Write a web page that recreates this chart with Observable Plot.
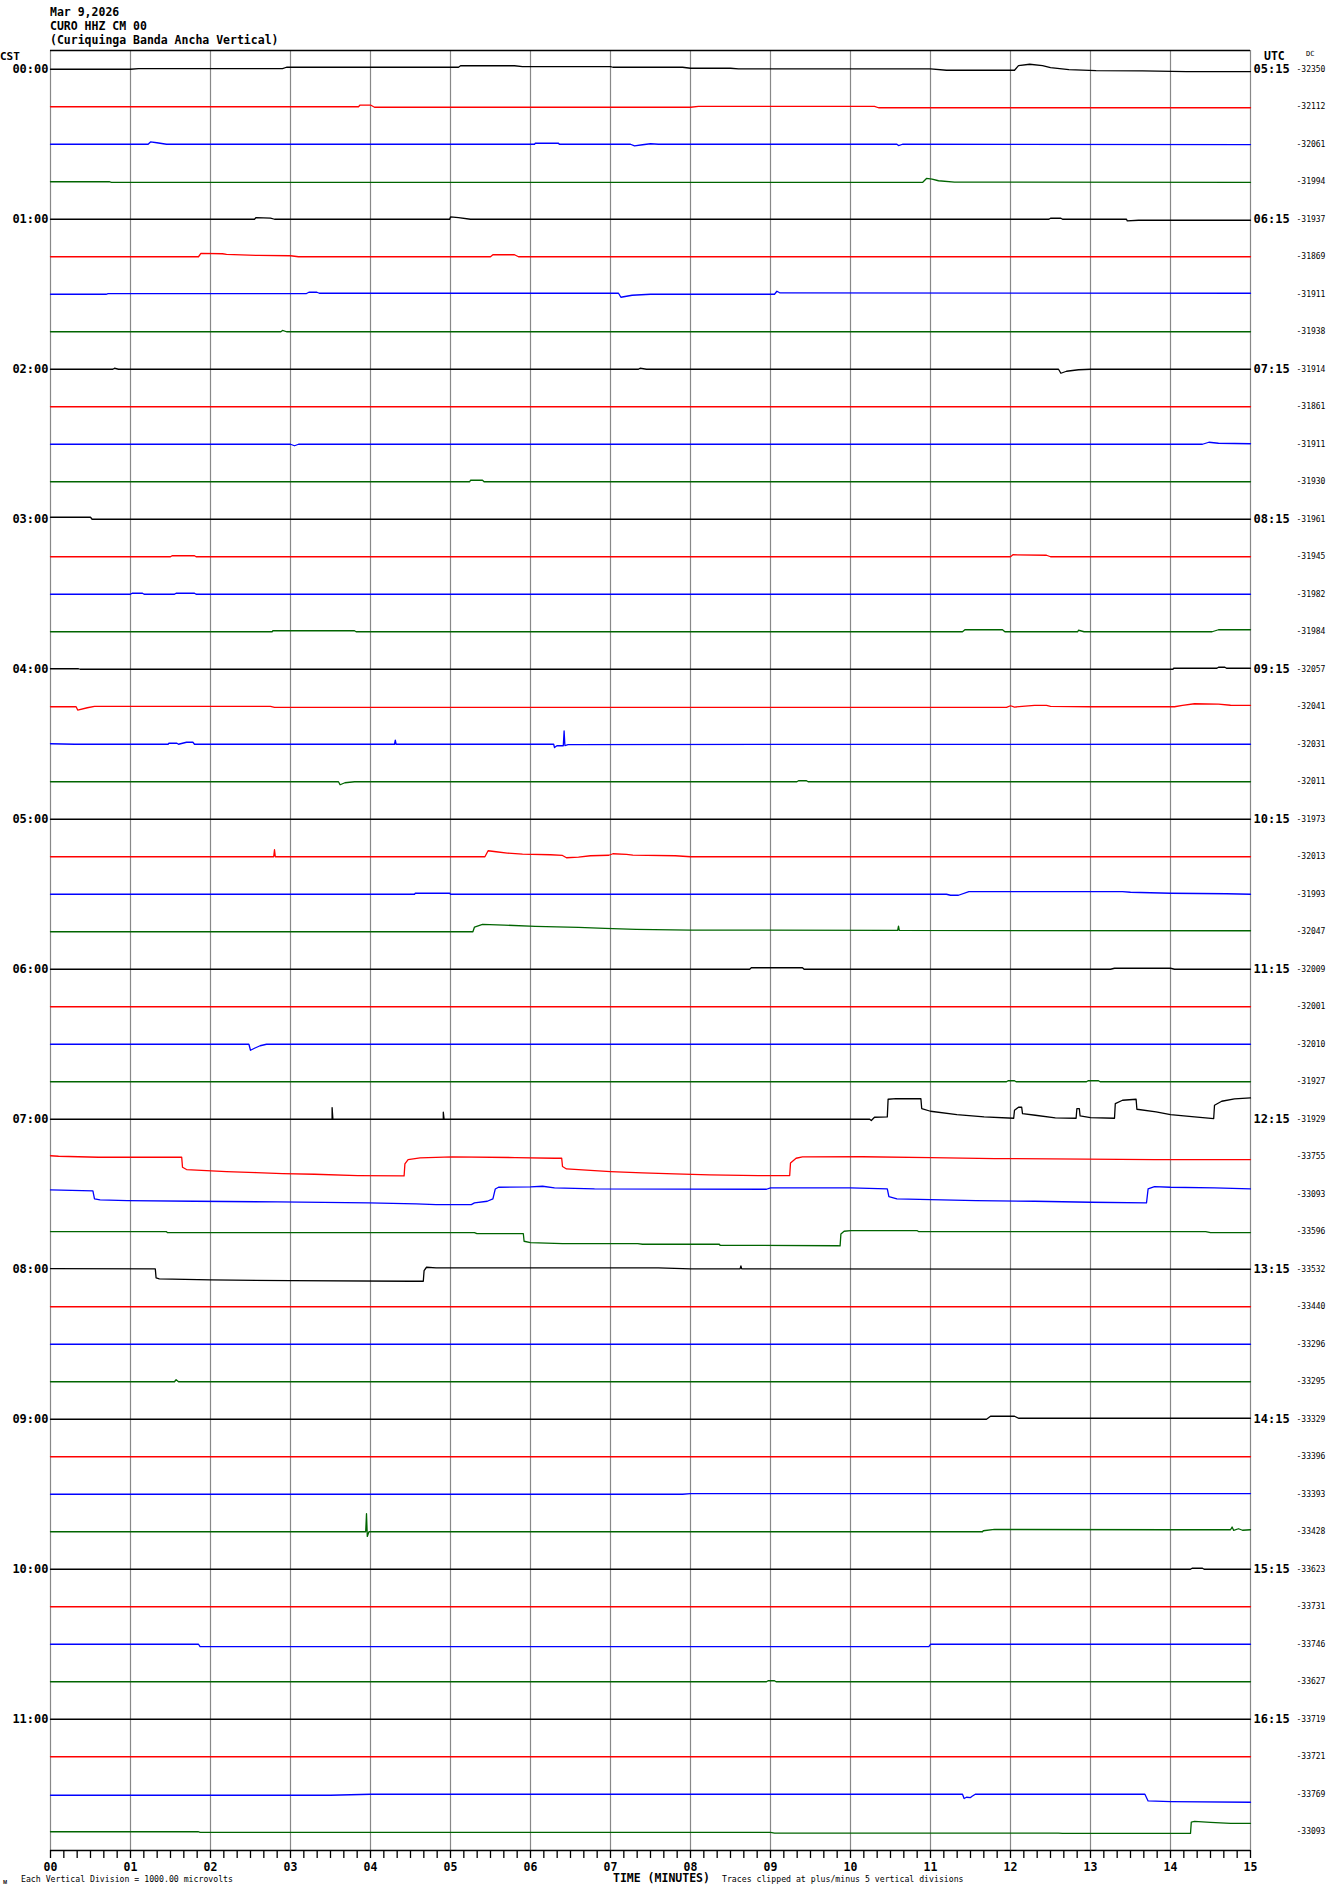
<!DOCTYPE html>
<html><head><meta charset="utf-8">
<script src="https://cdn.jsdelivr.net/npm/d3@7"></script>
<script src="https://cdn.jsdelivr.net/npm/@observablehq/plot@0.6"></script>
<style>body{margin:0;background:#fff} #chart{position:relative;width:1330px;height:1894px}</style>
</head><body><div id="chart"></div>
<script>
const S = 37.5;
const traceColors = ["#000000", "#ff0000", "#0000ff", "#006400"];
const cstLabels = ["00:00","01:00","02:00","03:00","04:00","05:00","06:00","07:00","08:00","09:00","10:00","11:00"];
const utcLabels = ["05:15","06:15","07:15","08:15","09:15","10:15","11:15","12:15","13:15","14:15","15:15","16:15"];
const dcValues = [-32350,-32112,-32061,-31994,-31937,-31869,-31911,-31938,-31914,-31861,-31911,-31930,
  -31961,-31945,-31982,-31984,-32057,-32041,-32031,-32011,-31973,-32013,-31993,-32047,
  -32009,-32001,-32010,-31927,-31929,-33755,-33093,-33596,-33532,-33440,-33296,-33295,
  -33329,-33396,-33393,-33428,-33623,-33731,-33746,-33627,-33719,-33721,-33769,-33093];
const minuteLabels = ["00","01","02","03","04","05","06","07","08","09","10","11","12","13","14","15"];

// Each trace: [minute, amplitude offset] breakpoints read from the helicorder
const traces = [
 /*00:00*/ [[0,0],[1.0,0],[1.1,0.7],[2.9,0.7],[2.95,2],[5.1,2],[5.13,3.7],[5.8,3.5],[5.9,2.7],[7.0,2.7],[7.03,2],[7.9,2],[8.0,1],[8.5,1],[8.6,0.3],[11.0,0.3],[11.2,-1],[12.05,-1],[12.1,3.7],[12.24,5],[12.4,3.7],[12.5,1.7],[12.73,-0.3],[13.07,-1.3],[13.65,-1.7],[14.2,-2.3],[15,-2.3]],
 /*00:15*/ [[0,0],[3.85,0],[3.87,1.7],[4.0,1.7],[4.05,-0.5],[8.0,-0.5],[8.1,0.3],[10.3,0.3],[10.35,-1],[15,-1]],
 /*00:30*/ [[0,0],[1.22,0],[1.25,2.3],[1.33,1.5],[1.45,0],[6.05,0],[6.06,1],[6.35,1],[6.36,0],[7.25,0],[7.3,-1.7],[7.4,-0.5],[7.5,0.5],[7.6,0],[10.58,0],[10.6,-1.3],[10.65,0],[15,-0.3]],
 /*00:45*/ [[0,0],[0.74,0],[0.76,-0.7],[10.9,-0.7],[10.95,3.3],[11.02,2.7],[11.1,1],[11.3,-0.3],[15,-0.7]],
 /*01:00*/ [[0,0],[2.55,0],[2.57,1.7],[2.75,1.2],[2.8,0],[4.99,0],[5.0,2.3],[5.1,1.7],[5.25,0],[12.48,0],[12.5,1],[12.63,1],[12.65,0],[13.45,0],[13.46,-1.7],[13.6,-1],[15,-1]],
 /*01:15*/ [[0,0],[1.85,0],[1.88,3.3],[2.15,3],[2.2,2.3],[2.6,1.3],[3.0,1],[3.1,0],[5.5,0],[5.53,2],[5.8,2],[5.85,0],[15,0]],
 /*01:30*/ [[0,0],[0.7,0],[0.72,0.7],[3.2,0.7],[3.23,2],[3.33,2],[3.36,1],[7.1,1],[7.13,-3],[7.2,-2],[7.27,-1],[7.5,0],[9.05,0],[9.08,3],[9.12,1.3],[15,1]],
 /*01:45*/ [[0,0],[2.88,0],[2.9,1.3],[2.95,0],[15,0]],
 /*02:00*/ [[0,0],[0.78,0],[0.8,1],[0.85,0],[7.35,0],[7.37,1],[7.45,0],[12.6,0],[12.63,-4],[12.7,-2],[12.85,-0.5],[13,0],[15,0]],
 /*02:15*/ [[0,0],[15,0]],
 /*02:30*/ [[0,0],[3.0,0],[3.05,-1.5],[3.1,0],[14.4,0],[14.48,2],[14.6,1],[15,0.5]],
 /*02:45*/ [[0,0],[5.24,0],[5.25,1.5],[5.4,1.5],[5.42,0],[15,0]],
 /*03:00*/ [[0,2],[0.5,2],[0.52,0],[15,0]],
 /*03:15*/ [[0,0],[1.5,0],[1.52,1],[1.8,1],[1.82,0],[12.0,0],[12.03,2],[12.45,1.5],[12.5,0],[15,0]],
 /*03:30*/ [[0,0],[1.0,0],[1.02,1],[1.15,1],[1.17,0],[1.55,0],[1.57,1],[1.8,1],[1.82,0],[15,0]],
 /*03:45*/ [[0,0],[2.77,0],[2.78,1],[3.8,1],[3.82,0],[11.4,0],[11.43,2],[11.9,2],[11.93,0],[12.84,0],[12.85,1.5],[12.92,0],[14.52,0],[14.6,2],[15,2]],
 /*04:00*/ [[0,0.5],[0.35,0.5],[0.37,0],[14.03,0],[14.04,1],[14.58,1],[14.6,2],[14.68,2],[14.7,1],[15,1]],
 /*04:15*/ [[0,0],[0.32,0],[0.34,-3.3],[0.46,-1],[0.55,0.3],[2.75,0.3],[2.8,-0.7],[11.95,-0.7],[12.0,1],[12.05,-0.3],[12.3,1.3],[12.45,1.3],[12.5,0.3],[13.0,0],[14.05,0],[14.15,1.3],[14.3,3],[14.6,2.7],[14.75,1.5],[15,1.3]],
 /*04:30*/ [[0,0.5],[0.3,0],[1.47,0],[1.48,1],[1.58,1],[1.6,0],[1.7,2],[1.78,2],[1.8,0],[4.3,0],[4.31,4],[4.32,0],[6.29,0],[6.3,-3.3],[6.33,-1.5],[6.41,-1.5],[6.42,13.3],[6.43,-1.3],[6.47,-0.3],[15,0]],
 /*04:45*/ [[0,0],[3.6,0],[3.62,-3],[3.68,-1],[3.8,0],[9.33,0],[9.35,1],[9.45,1],[9.47,0],[15,0]],
 /*05:00*/ [[0,0],[15,0]],
 /*05:15*/ [[0,0],[2.79,0],[2.8,7],[2.81,0],[5.43,0],[5.47,6],[5.57,5],[5.71,3.7],[5.9,2.7],[6.25,2],[6.4,1.3],[6.45,-1],[6.6,-0.3],[6.75,1],[6.98,1.5],[7.03,3],[7.2,2.3],[7.28,1.7],[7.81,1],[8.0,0],[15,0]],
 /*05:30*/ [[0,0],[4.55,0],[4.56,1],[4.99,1],[5.0,0],[11.2,0],[11.25,-1],[11.35,-1],[11.48,2.7],[13.4,2.7],[13.5,2],[14.0,1],[14.7,0.5],[15,0]],
 /*05:45*/ [[0,0],[5.28,0],[5.3,4.7],[5.4,7.3],[5.67,6.7],[6.06,5.3],[6.6,4.3],[6.93,3.3],[7.32,2.3],[8,1.7],[10.5,1.3],[10.59,1.3],[10.6,5.7],[10.61,1.3],[15,1]],
 /*06:00*/ [[0,0],[8.74,0],[8.76,1.5],[9.4,1.5],[9.42,0],[13.25,0],[13.3,1],[14.0,1],[14.05,0],[15,0]],
 /*06:15*/ [[0,0],[15,0]],
 /*06:30*/ [[0,0],[2.48,0],[2.5,-6],[2.55,-4],[2.62,-1.5],[2.7,0],[15,0]],
 /*06:45*/ [[0,0],[11.95,0],[11.97,1],[12.05,1],[12.07,0],[12.95,0],[12.97,1],[13.1,1],[13.12,0],[15,0]],
 /*07:00*/ [[0,0],[3.52,0],[3.52,11.7],[3.53,0],[4.91,0],[4.91,7],[4.92,0],[10.24,0],[10.26,-1.3],[10.3,2],[10.46,2.3],[10.47,20],[10.57,20.7],[10.88,20.5],[10.89,10.7],[11.0,8],[11.33,4.7],[11.67,2.3],[12.04,1],[12.05,9],[12.1,12],[12.14,12],[12.15,5.7],[12.31,4],[12.56,1.3],[12.82,1],[12.83,10.7],[12.86,10.7],[12.87,3.3],[13.0,1.7],[13.3,1],[13.31,15.7],[13.4,19],[13.57,20],[13.58,10],[13.82,7.3],[14.0,4.7],[14.3,2.3],[14.54,0.7],[14.55,14],[14.64,18],[14.8,20.3],[15,21.3]],
 /*07:15*/ [[0,1],[0.1,0.5],[0.6,-0.5],[1.64,-0.5],[1.65,-10.5],[1.7,-12.8],[1.95,-13.8],[2.2,-14.8],[2.57,-15.8],[2.9,-16.8],[3.3,-17.5],[3.84,-18.8],[4.42,-19.2],[4.43,-7.2],[4.47,-2.8],[4.62,-1.2],[5.02,-0.2],[5.81,-0.8],[6.3,-1.5],[6.39,-1.5],[6.4,-9.8],[6.45,-12.2],[6.8,-13.8],[7.0,-14.8],[7.4,-16.2],[7.8,-17.2],[8.24,-18.2],[8.85,-18.8],[9.24,-18.8],[9.25,-6.2],[9.32,-1.5],[9.4,-0.2],[10.15,0],[11.0,-0.8],[11.8,-1.8],[13.8,-2.8],[15,-2.8]],
 /*07:30*/ [[0,4.3],[0.53,3.3],[0.55,-4.7],[0.62,-5.7],[0.96,-6.3],[1.8,-7],[2.84,-7.7],[3.98,-8.7],[4.57,-9.7],[4.82,-10.3],[5.26,-10.3],[5.3,-8.7],[5.46,-7],[5.53,-4.7],[5.56,5.3],[5.6,7],[6.0,7.3],[6.15,8],[6.3,6.3],[6.8,5.3],[8.95,5],[9.0,6.3],[10.0,6.3],[10.46,5.3],[10.48,-2.3],[10.58,-4.7],[11.0,-5.3],[11.57,-6.3],[12.3,-7],[13.0,-8],[13.7,-8.7],[13.72,5.3],[13.8,7.7],[14.0,7],[14.55,6.3],[15,5.3]],
 /*07:45*/ [[0,0.2],[1.45,0.2],[1.46,-0.8],[5.3,-0.8],[5.33,-1.8],[5.91,-1.8],[5.92,-9.5],[6.0,-10.8],[6.4,-11.8],[7.34,-11.8],[7.4,-12.5],[8.36,-12.5],[8.37,-13.5],[9.84,-14],[9.87,-14.2],[9.88,-2.2],[9.92,0.5],[10.0,1.2],[10.83,1.2],[10.85,0.2],[14.44,0.2],[14.5,-0.8],[15,-0.8]],
 /*08:00*/ [[0,0.7],[1.31,0.3],[1.32,-8.7],[1.36,-9.7],[2.0,-10.7],[3.0,-11.3],[4.5,-12],[4.66,-12],[4.67,-1.3],[4.7,2],[4.82,1.3],[7.6,1.3],[8,0.3],[8.62,0.3],[8.63,3.3],[8.64,0.3],[15,0]],
 /*08:15*/ [[0,0],[15,0]],
 /*08:30*/ [[0,0],[15,0]],
 /*08:45*/ [[0,0],[1.55,0],[1.57,2],[1.6,0],[15,0]],
 /*09:00*/ [[0,0],[11.7,0],[11.75,3],[12.05,3],[12.1,1],[15,1]],
 /*09:15*/ [[0,0],[15,0]],
 /*09:30*/ [[0,0],[7.9,0],[8.0,0.7],[15,0.7]],
 /*09:45*/ [[0,0],[3.94,0],[3.95,18],[3.96,-4.7],[3.98,0],[11.65,0],[11.66,1],[11.8,2.3],[14.0,2],[14.75,2],[14.77,4.7],[14.79,1.3],[14.85,3],[14.9,1.5],[15,2]],
 /*10:00*/ [[0,0],[14.25,0],[14.27,1],[14.4,1],[14.42,0],[15,0]],
 /*10:15*/ [[0,0],[15,0]],
 /*10:30*/ [[0,0],[1.85,0],[1.87,-2.4],[10.98,-2.4],[11.0,0],[15,0]],
 /*10:45*/ [[0,0],[8.95,0],[8.97,1],[9.05,1],[9.07,0],[15,0]],
 /*11:00*/ [[0,0],[15,0]],
 /*11:15*/ [[0,0],[15,0]],
 /*11:30*/ [[0,-1],[3.5,-1],[4.0,0],[11.4,0],[11.42,-4.3],[11.45,-3],[11.5,-3.3],[11.52,-2],[11.56,0],[13.68,0],[13.72,-6.7],[14.0,-7.3],[15,-8]],
 /*11:45*/ [[0,0],[1.85,0],[1.87,-0.7],[9.0,-0.7],[9.05,-1.3],[12.6,-1.3],[12.65,-1.7],[14.25,-1.7],[14.26,9.7],[14.3,10.3],[14.5,9.3],[14.75,8.3],[15,8.3]]
];

const rows = traces.flatMap((pts, i) => pts.map(([m, a]) => ({trace: i, m, v: -i * S + a, color: traceColors[i % 4]})));
const tenSecondTicks = d3.range(0, 91).map(k => k / 6);
const minuteTicks = minuteLabels.map((d, k) => k);
const FONT = "'DejaVu Sans Mono', 'Liberation Mono', monospace";

const plot = Plot.plot({
  width: 1330, height: 1894,
  marginTop: 50, marginBottom: 44, marginLeft: 50, marginRight: 80,
  style: {fontFamily: FONT, fontSize: "12px", fontWeight: "bold", background: "#fff", color: "#000"},
  x: {domain: [0, 15], axis: null},
  y: {domain: [-47.5 * S, 0.5 * S], axis: null},
  color: {type: "identity"},
  marks: [
    Plot.ruleX(minuteTicks, {stroke: "#888", strokeWidth: 1.2}),
    Plot.ruleY([0.5 * S], {stroke: "#000", strokeWidth: 1.3}),
    Plot.ruleY([-47.5 * S], {stroke: "#000", strokeWidth: 1.3}),
    Plot.axisX({ticks: tenSecondTicks, tickSize: 8, tickFormat: () => "", label: null, stroke: "#000", strokeWidth: 1.3}),
    Plot.axisX({ticks: minuteTicks, tickSize: 0, tickPadding: 12, tickFormat: d => minuteLabels[d], label: null, fontSize: 11.5, fontWeight: "bold", fill: "#000"}),
    Plot.line(rows, {x: "m", y: "v", z: "trace", stroke: "color", strokeWidth: 1.3, curve: "linear"}),
    Plot.text(cstLabels, {x: () => 0, y: (d, k) => -k * 4 * S, text: d => d, textAnchor: "end", dx: -2, fontSize: 12, fontWeight: "bold", fill: "#000"}),
    Plot.text(utcLabels, {x: () => 15, y: (d, k) => -k * 4 * S, text: d => d, textAnchor: "start", dx: 3, fontSize: 12, fontWeight: "bold", fill: "#000"}),
    Plot.text(dcValues, {x: () => 15, y: (d, k) => -k * S, text: d => String(d), textAnchor: "start", dx: 46, fontSize: 8, fontWeight: "normal", fill: "#000"})
  ]
});
document.getElementById("chart").appendChild(plot);

const svg = d3.select(plot);
const addText = (t, x, y, size, weight) => svg.append("text").attr("x", x).attr("y", y)
  .attr("text-anchor", "start")
  .attr("font-family", FONT).attr("font-size", size).attr("font-weight", weight).attr("fill", "#000").text(t);
addText("Mar 9,2026", 50, 16, 11.5, "bold");
addText("CURO HHZ CM 00", 50, 30, 11.5, "bold");
addText("(Curiquinga Banda Ancha Vertical)", 50, 44, 11.5, "bold");
addText("CST", 0, 60, 11, "bold");
addText("UTC", 1264, 60, 11.5, "bold");
addText("DC", 1306, 56, 7, "normal");
addText("ᴍ", 3, 1884, 7, "normal");
addText("Each Vertical Division = 1000.00 microvolts", 21, 1882, 8.2, "normal");
addText("TIME (MINUTES)", 613, 1882, 11.5, "bold");
addText("Traces clipped at plus/minus 5 vertical divisions", 722, 1882, 8.2, "normal");
</script></body></html>
